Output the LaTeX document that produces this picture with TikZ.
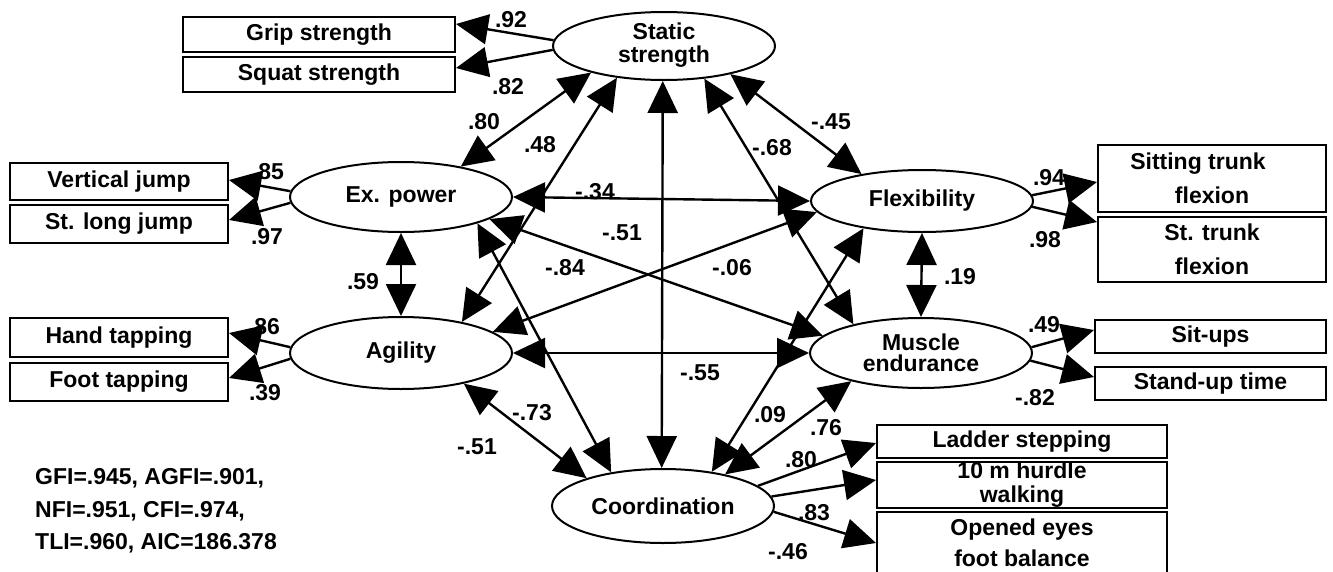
\documentclass[tikz,border=0pt]{standalone}
\usepackage{fontspec}
\setmainfont{Liberation Sans}
\usetikzlibrary{shapes.geometric,arrows.meta}
\newcommand{\mytxt}{\fontsize{23}{23}\selectfont\bfseries}
\begin{document}
\begin{tikzpicture}[x=1pt,y=-1pt,
  lat/.style={ellipse, draw, line width=2pt, minimum width=222pt, minimum height=70pt, inner sep=0pt, align=center, font=\mytxt},
  obs/.style={rectangle, draw, line width=2pt, inner sep=0pt, align=center, font=\mytxt},
  lab/.style={inner sep=0pt, font=\mytxt},
  tipbig/.tip={Triangle[length=32pt,width=30pt]},
  load/.style={line width=2.4pt, -tipbig},
  corr/.style={line width=2.4pt, tipbig-tipbig}]
\fill[white] (0,0) rectangle (1333,571);
\useasboundingbox (0,0) rectangle (1333,571);

% latent variables
\node[lat, minimum height=68pt] (S) at (664,46) {\raisebox{-5pt}{\begin{tabular}{@{}c@{}}Static\\strength\end{tabular}}};
\node[lat] (E) at (401,197) {Ex. power};
\node[lat, minimum height=72pt] (A) at (401,353) {Agility};
\node[lat, minimum height=62pt] (F) at (922,201) {Flexibility};
\node[lat, font=\fontsize{23}{21}\selectfont\bfseries] (M) at (921,353) {Muscle\\endurance};
\node[lat, minimum height=74pt] (C) at (663,506) {Coordination};

% observed variables
\node[obs, minimum width=272pt, minimum height=35pt] (grip) at (319,34.5) {Grip strength};
\node[obs, minimum width=272pt, minimum height=35pt] (squat) at (319,74.5) {Squat strength};
\node[obs, minimum width=218pt, minimum height=37pt] (vert) at (119,181.5) {Vertical jump};
\node[obs, minimum width=218pt, minimum height=38pt] (slj) at (119,224) {St. long jump};
\node[obs, minimum width=218pt, minimum height=39pt] (hand) at (119,337.5) {Hand tapping};
\node[obs, minimum width=218pt, minimum height=38pt] (foot) at (119,382) {Foot tapping};
\node[obs, minimum width=228pt, minimum height=67pt, font=\fontsize{23}{34}\selectfont\bfseries] (sit) at (1212,178.5) {Sitting trunk\hspace*{28pt}\\flexion};
\node[obs, minimum width=228pt, minimum height=65pt, font=\fontsize{23}{34}\selectfont\bfseries] (stt) at (1212,249.5) {St. trunk\\flexion};
\node[obs, minimum width=231pt, minimum height=33pt] (sup) at (1210.5,336.5) {Sit-ups};
\node[obs, minimum width=231pt, minimum height=33pt] (stand) at (1210.5,383.5) {Stand-up time};
\node[obs, minimum width=290pt, minimum height=33pt] (lad) at (1022,441.5) {Ladder stepping};
\node[obs, minimum width=290pt, minimum height=46pt, font=\fontsize{23}{24}\selectfont\bfseries] (hur) at (1022,485) {10 m hurdle\\walking};
\node[obs, minimum width=290pt, minimum height=62pt, font=\fontsize{23}{31}\selectfont\bfseries] (ope) at (1022,543) {Opened eyes\\foot balance};

% loadings
\draw[load] (S.177) -- ([yshift=10.5pt]grip.east);
\draw[load] (S.182) -- ([yshift=6.5pt]squat.east);
\draw[load] (E.177) -- ([yshift=1.5pt]vert.east);
\draw[load] (E.183) -- ([yshift=4pt]slj.east);
\draw[load] (A.177) -- ([yshift=4.5pt]hand.east);
\draw[load] (A.183.5) -- ([yshift=4pt]foot.east);
\draw[load] (F.3) -- ([yshift=-3.5pt]sit.west);
\draw[load] (F.357) -- ([yshift=27.5pt]stt.west);
\draw[load] (M.3) -- ([yshift=6.5pt]sup.west);
\draw[load] (M.356) -- ([yshift=6.5pt]stand.west);
\draw[load] (C.12) -- ([yshift=-1.5pt]lad.west);
\draw[load] (C.5) -- ([yshift=5pt]hur.west);
\draw[load] (C.357) -- (ope.west);

% correlations
\draw[corr] (S.200) -- (E.27);
\draw[corr] (S.214) -- (A.27);
\draw[corr] (S.337) -- (F.156);
\draw[corr] (S.321) -- (M.157);
\draw[corr] (S.268) -- (C.92);
\draw[corr] (E.east) -- (F.west);
\draw[corr] (E.346.5) -- (M.170);
\draw[corr] (E.south) -- (A.north);
\draw[corr] (E.341) -- (C.147);
\draw[corr] (A.13.5) -- (F.186.6);
\draw[corr] (A.east) -- (M.west);
\draw[corr] (A.334) -- (C.160);
\draw[corr] (F.south) -- (M.north);
\draw[corr] (F.205) -- (C.35);
\draw[corr] (M.202) -- (C.27);

% labels
\node[lab] (l92) at (511,20) {.92};
\node[lab] (l82) at (508,87) {.82};
\node[lab] (l80) at (484,122) {.80};
\node[lab] (l48) at (540,145) {.48};
\node[lab] (l45) at (831,122) {-.45};
\node[lab] (l68) at (772,148) {-.68};
\node[lab] (l34) at (595,192) {-.34};
\node[lab] (l51a) at (622,233) {-.51};
\node[lab] (l84) at (565,268) {-.84};
\node[lab] (l06) at (732,268) {-.06};
\node[lab] (l59) at (363,282) {.59};
\node[lab] (l19) at (960,277) {.19};
\node[lab] (l55) at (700,373) {-.55};
\node[lab] (l73) at (532,413) {-.73};
\node[lab] (l51b) at (477,447) {-.51};
\node[lab] (l09) at (770,415) {.09};
\node[lab] (l76) at (826,428) {.76};
\node[lab] (l80b) at (801,460) {.80};
\node[lab] (l83) at (814,513) {.83};
\node[lab] (l46) at (788,552) {-.46};
\node[lab] (l85) at (268,172) {.85};
\node[lab] (l97) at (267,237) {.97};
\node[lab] (l86) at (264,327) {.86};
\node[lab] (l39) at (265,393) {.39};
\node[lab] (l94) at (1049,178) {.94};
\node[lab] (l98) at (1045,240) {.98};
\node[lab] (l49) at (1044,325) {.49};
\node[lab] (l82b) at (1035,398) {-.82};

\node[lab, anchor=west, align=left, font=\fontsize{23}{32.5}\selectfont\bfseries] (fit) at (35,511) {GFI=.945, AGFI=.901,\\NFI=.951, CFI=.974,\\TLI=.960, AIC=186.378};
\end{tikzpicture}
\end{document}
